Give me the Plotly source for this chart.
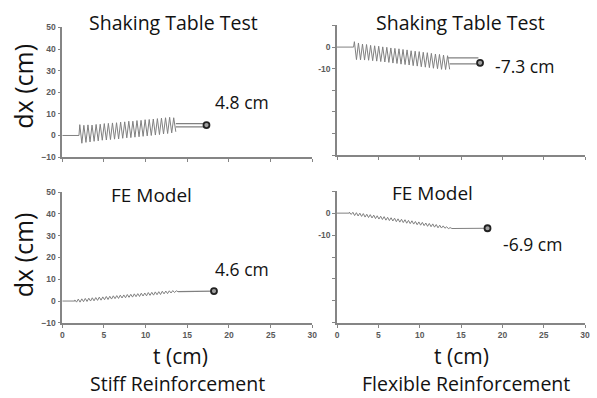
import plotly.graph_objects as go

# ---- time bases (s) of the zig-zag vertices --------------------------------
t_shake = [2.10, 2.35, 2.59, 2.84, 3.08, 3.33, 3.57, 3.82, 4.06, 4.31, 4.55, 4.80,
           5.04, 5.29, 5.53, 5.78, 6.02, 6.27, 6.51, 6.76, 7.00, 7.25, 7.49, 7.74,
           7.98, 8.23, 8.47, 8.72, 8.96, 9.21, 9.45, 9.70, 9.94, 10.19, 10.43, 10.68,
           10.92, 11.17, 11.41, 11.66, 11.90, 12.15, 12.39, 12.64, 12.88, 13.13, 13.37, 13.62]

t_fe = [1.50, 1.71, 1.92, 2.13, 2.34, 2.55, 2.76, 2.97, 3.18, 3.39, 3.60, 3.81,
        4.02, 4.23, 4.44, 4.65, 4.86, 5.07, 5.28, 5.49, 5.70, 5.91, 6.12, 6.33,
        6.54, 6.75, 6.96, 7.17, 7.38, 7.59, 7.80, 8.01, 8.22, 8.43, 8.64, 8.85,
        9.06, 9.27, 9.48, 9.69, 9.90, 10.11, 10.32, 10.53, 10.74, 10.95, 11.16, 11.37,
        11.58, 11.79, 12.00, 12.21, 12.42, 12.63, 12.84, 13.05, 13.26, 13.47, 13.68, 13.89]

# ---- displacement records dx (cm) ------------------------------------------
stiff_shake = [5.0, -3.6, 4.7, -3.2, 4.9, -3.0, 4.8, -2.7, 5.1, -2.5, 5.2, -2.2,
               5.5, -2.1, 5.6, -1.9, 5.8, -1.7, 5.9, -1.6, 6.2, -1.3, 6.3, -1.1,
               6.6, -1.0, 6.6, -0.8, 6.9, -0.6, 7.0, -0.4, 7.3, -0.2, 7.4, 0.0,
               7.6, 0.2, 7.8, 0.4, 8.0, 0.7, 8.2, 0.9, 8.4, 1.2, 8.2, 1.7]

flex_shake = [2.5, -5.8, 1.9, -5.9, 1.4, -6.0, 1.2, -6.1, 0.8, -6.3, 0.6, -6.5,
              0.4, -6.7, 0.1, -6.9, -0.1, -7.1, -0.4, -7.4, -0.6, -7.6, -0.8, -7.9,
              -1.1, -8.1, -1.3, -8.3, -1.7, -8.6, -1.9, -8.8, -2.1, -9.1, -2.4, -9.3,
              -2.6, -9.5, -2.9, -9.8, -3.2, -10.0, -3.4, -10.3, -3.7, -10.4, -4.0, -10.3]

stiff_fe = [0.5, -0.5, 0.9, -0.5, 1.0, -0.3, 1.2, -0.2, 1.3, 0.0, 1.5, 0.1,
            1.6, 0.3, 1.8, 0.4, 1.9, 0.6, 2.1, 0.7, 2.2, 0.9, 2.4, 1.1,
            2.5, 1.2, 2.7, 1.4, 2.8, 1.5, 3.0, 1.7, 3.1, 1.8, 3.3, 2.0,
            3.4, 2.1, 3.6, 2.3, 3.7, 2.4, 3.9, 2.6, 4.0, 2.7, 4.2, 2.9,
            4.3, 3.0, 4.5, 3.3, 4.6, 3.4, 4.7, 3.7, 4.8, 3.9, 4.7, 4.3]

flex_fe = [0.4, -0.6, 0.4, -1.1, 0.2, -1.3, 0.0, -1.5, -0.2, -1.8, -0.5, -2.0,
           -0.7, -2.2, -0.9, -2.5, -1.2, -2.7, -1.4, -2.9, -1.6, -3.2, -1.9, -3.4,
           -2.1, -3.6, -2.3, -3.9, -2.6, -4.1, -2.8, -4.3, -3.0, -4.6, -3.3, -4.8,
           -3.5, -5.0, -3.8, -5.3, -4.0, -5.5, -4.2, -5.7, -4.5, -6.0, -4.7, -6.2,
           -4.9, -6.4, -5.2, -6.7, -5.5, -6.8, -5.8, -6.9, -6.2, -7.1, -6.6, -7.0]

# quiet start before shaking: (t, dx)
lead_t = [0.0, 2.0]
lead_dx = [0.0, 0.0]
lead_fe_t = [0.0, 1.5]

# residual (post-shaking) segments
stiff_shake_tail_t = [13.62, 17.3]
stiff_shake_tail_hi = [5.5, 5.5]
stiff_shake_tail_lo = [4.0, 4.0]
flex_shake_tail_t = [13.4, 17.1]
flex_shake_tail_hi = [-5.0, -5.0]
flex_shake_tail_t2 = [13.62, 17.3]
flex_shake_tail_lo = [-7.8, -7.8]
stiff_fe_tail_t = [13.89, 18.2]
stiff_fe_tail = [4.3, 4.6]
flex_fe_tail_t = [13.89, 18.2]
flex_fe_tail = [-7.0, -6.9]

# final residual displacements (marked and labelled)
final_t = [17.3, 17.3, 18.2, 18.2]
final_dx = [4.8, -7.3, 4.6, -6.9]

xticks = [0, 5, 10, 15, 20, 25, 30]
yticks_stiff = [-10, 0, 10, 20, 30, 40, 50]
yticks_flex = [-50, -40, -30, -20, -10, 0, 10]
flex_ticktext = ["", "", "", "", "-10", "0", ""]

LINE = "#808080"
AXIS = "#858585"
TXT = "#121212"
FONT = "Open Sans"

W, H = 597, 398


def px_x(p):
    return p / W


def px_y(p):
    return 1 - p / H


fig = go.Figure()

panels = [
    # (xaxis, yaxis, t, dx, lead_t, tails, final index)
    ("x", "y", t_shake, stiff_shake, lead_t,
     [(stiff_shake_tail_t, stiff_shake_tail_hi), (stiff_shake_tail_t, stiff_shake_tail_lo)], 0),
    ("x2", "y2", t_shake, flex_shake, lead_t,
     [(flex_shake_tail_t, flex_shake_tail_hi), (flex_shake_tail_t2, flex_shake_tail_lo)], 1),
    ("x3", "y3", t_fe, stiff_fe, lead_fe_t, [(stiff_fe_tail_t, stiff_fe_tail)], 2),
    ("x4", "y4", t_fe, flex_fe, lead_fe_t, [(flex_fe_tail_t, flex_fe_tail)], 3),
]

for xa, ya, tt, dx, lt, tails, k in panels:
    fig.add_trace(go.Scatter(x=lt + tt, y=lead_dx + dx, mode="lines", xaxis=xa, yaxis=ya,
                             line=dict(color=LINE, width=1), showlegend=False, hoverinfo="skip"))
    for tx, ty in tails:
        fig.add_trace(go.Scatter(x=tx, y=ty, mode="lines", xaxis=xa, yaxis=ya,
                                 line=dict(color=LINE, width=1.2), showlegend=False))
    fig.add_trace(go.Scatter(x=[final_t[k]], y=[final_dx[k]], mode="markers", xaxis=xa, yaxis=ya,
                             marker=dict(size=6, color="#a0a0a0", line=dict(color="#222", width=1.8)),
                             showlegend=False))

tick_font = dict(family="Arial", size=8.5, color="#5a5a5a", weight="bold")

common_x = dict(range=[0, 30], tickvals=xticks, showgrid=False, zeroline=False,
                showline=True, linecolor=AXIS, linewidth=1.5, ticks="outside",
                ticklen=3, tickcolor=AXIS, tickfont=tick_font)
common_y = dict(showgrid=False, zeroline=False, showline=True, linecolor=AXIS,
                linewidth=1.5, ticks="outside", ticklen=3, tickcolor=AXIS,
                tickfont=tick_font)

xl = [px_x(61), px_x(314)]
xr = [px_x(339), px_x(590)]

fig.update_layout(
    width=W, height=H, margin=dict(l=0, r=0, t=0, b=0),
    paper_bgcolor="white", plot_bgcolor="white",
    xaxis=dict(common_x, domain=xl, anchor="y", showticklabels=False),
    yaxis=dict(common_y, domain=[px_y(156), px_y(23)], anchor="x", range=[-10, 50],
               tickvals=yticks_stiff),
    xaxis2=dict(common_x, domain=xr, anchor="y2", showticklabels=False),
    yaxis2=dict(common_y, domain=[px_y(154), px_y(21)], anchor="x2", range=[-50, 10],
                tickvals=yticks_flex, ticktext=flex_ticktext),
    xaxis3=dict(common_x, domain=xl, anchor="y3"),
    yaxis3=dict(common_y, domain=[px_y(326), px_y(192)], anchor="x3", range=[-10, 50],
                tickvals=yticks_stiff),
    xaxis4=dict(common_x, domain=xr, anchor="y4"),
    yaxis4=dict(common_y, domain=[px_y(326), px_y(191)], anchor="x4", range=[-50, 10],
                tickvals=yticks_flex, ticktext=flex_ticktext),
)


def note(text, x, y, size=16, xanchor="center", angle=0):
    fig.add_annotation(text=text, x=x, y=y, xref="paper", yref="paper", showarrow=False,
                       xanchor=xanchor, yanchor="middle", textangle=angle,
                       font=dict(family=FONT, size=size, color=TXT))


note("Shaking Table Test", px_x(174), px_y(18), 19.5)
note("Shaking Table Test", px_x(464), px_y(18), 19.5)
note("FE Model", px_x(151), px_y(195), 19)
note("FE Model", px_x(436), px_y(193), 19)

label_pos = [(213, 100), (497, 63), (213, 271), (505, 245)]
for (lx, ly), v in zip(label_pos, final_dx):
    note(f"{v:.1f} cm", px_x(lx), px_y(ly), 17.5, xanchor="left")

note("dx (cm)", px_x(21), px_y(83), 25, angle=-90)
note("dx (cm)", px_x(21), px_y(256), 25, angle=-90)
note("t (cm)", px_x(181), px_y(360), 21)
note("t (cm)", px_x(465), px_y(360), 21)
note("Stiff Reinforcement", px_x(178), px_y(388), 19.5)
note("Flexible Reinforcement", px_x(469), px_y(388), 19.5)

fig.write_html("out.html")
